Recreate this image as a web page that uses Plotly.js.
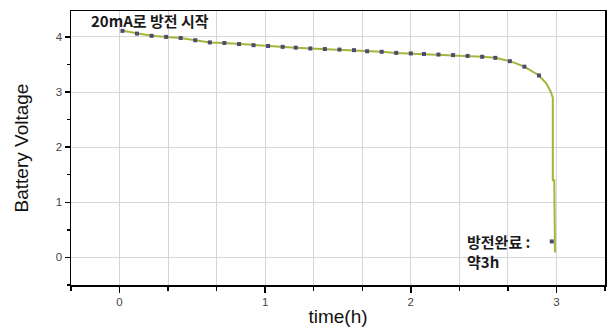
<!DOCTYPE html>
<html><head><meta charset="utf-8">
<script src="https://cdn.plot.ly/plotly-3.0.1.min.js"></script>
<style>html,body{margin:0;padding:0;background:#fff}#chart{width:613px;height:330px}</style>
</head><body><div id="chart"></div>
<script>
// Marker samples (time in h, voltage)
const markerTime = [0.02,0.12,0.22,0.32,0.42,0.52,0.62,0.72,0.82,0.92,1.02,1.12,1.21,1.31,1.41,1.51,1.61,1.70,1.80,1.90,2.00,2.09,2.19,2.29,2.39,2.49,2.58,2.68,2.78,2.88,2.968];
const markerVolt = [4.11,4.06,4.02,4.00,3.98,3.94,3.90,3.89,3.87,3.85,3.835,3.82,3.805,3.79,3.78,3.77,3.76,3.74,3.73,3.71,3.70,3.69,3.68,3.67,3.655,3.64,3.62,3.56,3.46,3.30,0.29];
// Continuous discharge curve
const lineTime = [0.02,0.12,0.22,0.32,0.42,0.52,0.62,0.72,0.82,0.92,1.02,1.12,1.21,1.31,1.41,1.51,1.61,1.70,1.80,1.90,2.00,2.09,2.19,2.29,2.39,2.49,2.58,2.68,2.78,2.88,2.93,2.96,2.975,2.975,2.985,2.985,2.99];
const lineVolt = [4.11,4.06,4.02,4.00,3.98,3.94,3.90,3.89,3.87,3.85,3.835,3.82,3.805,3.79,3.78,3.77,3.76,3.74,3.73,3.71,3.70,3.69,3.68,3.67,3.655,3.64,3.62,3.56,3.46,3.30,3.16,3.01,2.9,1.4,1.4,0.12,0.09];
const xTickVals = [0,1,2,3];
const xTickText = ['0','1','2','3'];
const yTickVals = [0,1,2,3,4];
const startLabel = '20mA로 방전 시작';
const endLabel = '방전완료 :<br>약3h';

const tickFont = {family:'Liberation Sans, Arial, sans-serif', size:11.5, color:'#444'};
const annFont = {family:'Noto Sans CJK KR, sans-serif', size:15, color:'#1a1a1a', weight:'bold'};

Plotly.newPlot('chart', [
  {x: lineTime, y: lineVolt, mode:'lines', line:{color:'#a9b23c', width:2}, hoverinfo:'skip'},
  {x: markerTime, y: markerVolt, mode:'markers', marker:{symbol:'square', size:4, color:'#4b4c72'}}
], {
  width:613, height:330, showlegend:false,
  paper_bgcolor:'#fff', plot_bgcolor:'#fff',
  margin:{l:71, r:8, t:11, b:45},
  xaxis:{range:[-1/3, 10/3], tickvals:xTickVals, ticktext:xTickText, ticks:'outside', ticklen:6, tickwidth:1.5, tickcolor:'#000',
    showline:true, linecolor:'#000', linewidth:1.5, mirror:true, showgrid:true, gridcolor:'#d6d6d6', gridwidth:1, zeroline:false,
    tickfont:tickFont,
    minor:{tick0:0, dtick:1/3, ticks:'outside', ticklen:4, tickcolor:'#000', showgrid:true, gridcolor:'#d6d6d6', gridwidth:1},
    title:{text:'time(h)', font:{family:'Liberation Sans, Arial, sans-serif', size:19, color:'#111'}, standoff:2}},
  yaxis:{range:[-0.5, 4.47], tickvals:yTickVals, ticks:'outside', ticklen:5, tickwidth:1.5, tickcolor:'#000',
    showline:true, linecolor:'#000', linewidth:1.5, mirror:true, showgrid:true, gridcolor:'#d6d6d6', gridwidth:1, zeroline:false,
    tickfont:tickFont,
    minor:{dtick:0.5, tick0:0, ticks:'outside', ticklen:3, tickcolor:'#000', showgrid:false},
    title:{text:'Battery Voltage', font:{family:'Liberation Sans, Arial, sans-serif', size:19, color:'#111'}, standoff:22}},
  annotations:[
    {x:0, y:4.29, xref:'x', yref:'y', text:startLabel, showarrow:false, xanchor:'left', yanchor:'middle', xshift:-31, font:annFont},
    {x:2.37, y:0.1, xref:'x', yref:'y', text:endLabel, showarrow:false, xanchor:'left', yanchor:'middle', align:'left', font:annFont}
  ]
}, {displayModeBar:false, staticPlot:true});
</script></body></html>
